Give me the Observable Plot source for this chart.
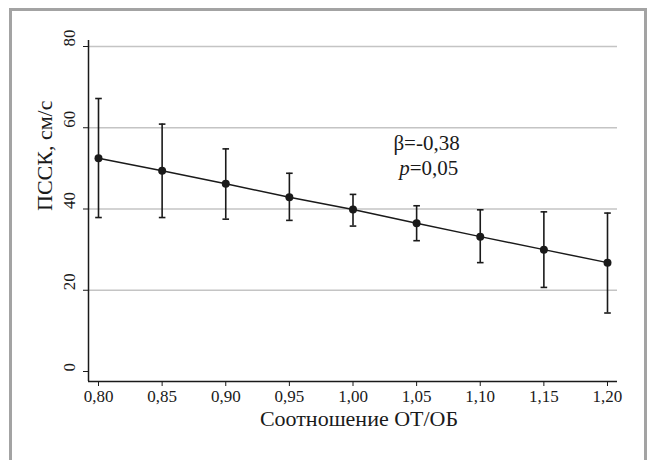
<!DOCTYPE html>
<html>
<head>
<meta charset="utf-8">
<script src="https://cdn.jsdelivr.net/npm/d3@7"></script>
<script src="https://cdn.jsdelivr.net/npm/@observablehq/plot@0.6"></script>
<style>
  html, body { margin: 0; padding: 0; background: #fff; }
  #wrap { position: relative; width: 650px; height: 460px; }
  #wrap svg, #wrap svg text { font-family: "Liberation Serif", "Times New Roman", serif !important; }
  #border { position: absolute; left: 9px; top: 8px; width: 632px; height: 460px;
            border: 3px solid #a3a3a3; border-bottom: none; pointer-events: none; }
</style>
</head>
<body>
<div id="wrap"><div id="border"></div></div>
<script>
// ---- data ----
const ratio = [0.80, 0.85, 0.90, 0.95, 1.00, 1.05, 1.10, 1.15, 1.20];
const mean  = [52.5, 49.4, 46.2, 42.9, 39.9, 36.5, 33.2, 30.0, 26.8];
const upper = [67.2, 60.9, 54.8, 48.8, 43.6, 40.8, 39.8, 39.3, 39.0];
const lower = [37.9, 37.9, 37.5, 37.2, 35.8, 32.2, 26.8, 20.7, 14.4];
const xTicks = [0.80, 0.85, 0.90, 0.95, 1.00, 1.05, 1.10, 1.15, 1.20];
const yTicks = [0, 20, 40, 60, 80];
const gridValues = [20, 40, 60, 80];
const xLabel = "Соотношение ОТ/ОБ";
const yLabel = "ПССК, см/с";
const betaText = "β=-0,38";
const pText = "=0,05";
const pLetter = "p";
const annot = {x: 1.0578, y1: 56.2, xSplit: 1.0445, y2: 50.1};

const rows = ratio.map((r, i) => ({x: r, m: mean[i], lo: lower[i], hi: upper[i]}));
const fmt = d => d.toFixed(2).replace(".", ",");
const serif = "Liberation Serif, Times New Roman, serif";
const ink = "#1a1a1a";

const capSymbol = {
  draw(ctx, size) {
    const r = Math.sqrt(size / Math.PI);
    ctx.moveTo(-r, 0);
    ctx.lineTo(r, 0);
  }
};

const xDomain = [0.80 - 0.00786, 1.20 + 0.00786];
const yDomain = [-2.46, 81.48];

const chart = Plot.plot({
  width: 650,
  height: 460,
  marginLeft: 88,
  marginRight: 33,
  marginTop: 40,
  marginBottom: 79,
  style: {fontFamily: serif, fontSize: "17px", color: ink, background: "transparent"},
  x: {domain: xDomain},
  y: {domain: yDomain},
  marks: [
    Plot.ruleY(gridValues, {stroke: "#c4c4c4", strokeWidth: 1.5}),
    Plot.ruleX([xDomain[0]], {stroke: ink, strokeWidth: 1.5}),
    Plot.ruleY([yDomain[0]], {stroke: ink, strokeWidth: 1.5}),
    Plot.axisX({ticks: xTicks, tickFormat: fmt, tickSize: 5, tickPadding: 3, fontSize: 17, label: null, stroke: ink}),
    Plot.axisY({ticks: yTicks, tickFormat: () => "", tickSize: 5, label: null, stroke: ink}),
    Plot.text(yTicks, {y: d => d, text: d => String(d), frameAnchor: "left", rotate: -90, dx: -19, fontSize: 17, fill: ink}),
    Plot.text([yLabel], {text: d => d, frameAnchor: "left", rotate: -90, dx: -44, fontSize: 22, fill: ink}),
    Plot.text([xLabel], {text: d => d, frameAnchor: "bottom", dy: 44, dx: 6, fontSize: 22, fill: ink}),
    Plot.ruleX(rows, {x: "x", y1: "lo", y2: "hi", stroke: ink, strokeWidth: 1.6}),
    Plot.dot(rows, {x: "x", y: "hi", symbol: capSymbol, r: 3.3, stroke: ink, strokeWidth: 1.6, fill: "none"}),
    Plot.dot(rows, {x: "x", y: "lo", symbol: capSymbol, r: 3.3, stroke: ink, strokeWidth: 1.6, fill: "none"}),
    Plot.line(rows, {x: "x", y: "m", stroke: ink, strokeWidth: 1.5}),
    Plot.dot(rows, {x: "x", y: "m", r: 4, fill: ink, stroke: "none"}),
    Plot.text([betaText], {x: () => annot.x, y: () => annot.y1, text: d => d, fontSize: 21, fill: ink}),
    Plot.text([pLetter], {x: () => annot.xSplit, y: () => annot.y2, text: d => d, fontSize: 21, fontStyle: "italic", textAnchor: "end", fill: ink}),
    Plot.text([pText], {x: () => annot.xSplit, y: () => annot.y2, text: d => d, fontSize: 21, textAnchor: "start", fill: ink})
  ]
});
document.getElementById("wrap").prepend(chart);
</script>
</body>
</html>
